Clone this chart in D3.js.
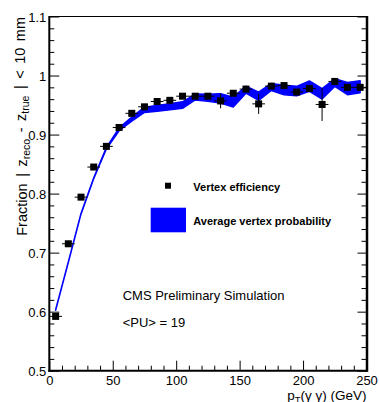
<!DOCTYPE html>
<html>
<head>
<meta charset="utf-8">
<script src="https://cdn.jsdelivr.net/npm/d3@7"></script>
<style>
  html, body { margin: 0; padding: 0; background: #fff; }
  svg { display: block; font-family: "Liberation Sans", Arial, sans-serif; }
</style>
</head>
<body>
<svg id="chart" width="379" height="402"></svg>
<script>
// ---- data ----
const ptBins = [5,15,25,35,45,55,65,75,85,95,105,115,125,135,145,155,165,175,185,195,205,215,225,235,245];
const binHalfWidth = 5;
const efficiency = [0.592,0.715,0.794,0.845,0.880,0.912,0.936,0.947,0.956,0.958,0.965,0.965,0.965,0.957,0.970,0.977,0.952,0.982,0.983,0.972,0.978,0.951,0.990,0.980,0.980];
const efficiencyErr = [0.004,0.003,0.003,0.004,0.004,0.004,0.004,0.004,0.004,0.004,0.004,0.004,0.004,0.0125,0.005,0.005,0.017,0.004,0.004,0.005,0.005,0.028,0.005,0.006,0.006];
const avgProb = [0.603,0.684,0.766,0.826,0.877,0.909,0.926,0.942,0.9445,0.947,0.950,0.9636,0.9623,0.9614,0.955,0.976,0.965,0.9806,0.9755,0.9738,0.982,0.969,0.988,0.978,0.981];
const avgProbErr = [0.0008,0.0008,0.0008,0.001,0.0015,0.0025,0.0035,0.0045,0.005,0.0052,0.0055,0.005,0.006,0.008,0.0085,0.006,0.007,0.006,0.008,0.008,0.0088,0.0088,0.0065,0.0105,0.0102];
const xTicks = [0,50,100,150,200,250];
const xMinorTicks = d3.range(0, 251, 10);
const yTicks = [0.5,0.6,0.7,0.8,0.9,1,1.1];
const yTickLabels = ["0.5","0.6","0.7","0.8","0.9","1","1.1"];
const yMinorTicks = d3.range(0, 31).map(i => 0.5 + i * 0.02);

// ---- layout ----
const svg = d3.select("#chart");
const L = 49.3, R = 366.5, T = 16.5, B = 370.7;
const x = d3.scaleLinear().domain([0, 250]).range([L, R]);
const y = d3.scaleLinear().domain([0.5, 1.1]).range([B, T]);

// ---- band ----
const bandData = ptBins.map((p, i) => ({p, v: avgProb[i], e: avgProbErr[i]}));
const area = d3.area()
  .x(d => x(d.p))
  .y0(d => y(d.v - d.e))
  .y1(d => y(d.v + d.e));
svg.append("path")
  .datum(bandData)
  .attr("d", area)
  .attr("fill", "#0000ff")
  .attr("stroke", "#0000ff")
  .attr("stroke-width", 1.4)
  .attr("stroke-linejoin", "round");

// ---- points ----
const pts = ptBins.map((p, i) => ({p, v: efficiency[i], e: efficiencyErr[i]}));
const g = svg.append("g");
g.selectAll("line.h").data(pts).join("line")
  .attr("x1", d => x(d.p - binHalfWidth)).attr("x2", d => x(d.p + binHalfWidth))
  .attr("y1", d => y(d.v)).attr("y2", d => y(d.v))
  .attr("stroke", "#000").attr("stroke-width", 1);
g.selectAll("line.v").data(pts).join("line")
  .attr("x1", d => x(d.p)).attr("x2", d => x(d.p))
  .attr("y1", d => y(d.v - d.e)).attr("y2", d => y(d.v + d.e))
  .attr("stroke", "#000").attr("stroke-width", 1);
const ms = 7;
g.selectAll("rect").data(pts).join("rect")
  .attr("x", d => x(d.p) - ms / 2).attr("y", d => y(d.v) - ms / 2)
  .attr("width", ms).attr("height", ms).attr("fill", "#000");

// ---- axes ----
const fs = 13;
const xAxis = svg.append("g").attr("transform", `translate(0,${B})`)
  .call(d3.axisBottom(x).tickValues(xTicks).tickFormat(d3.format("d")).tickSizeInner(-10).tickSizeOuter(0).tickPadding(5));
const xMinor = svg.append("g").attr("transform", `translate(0,${B})`)
  .call(d3.axisBottom(x).tickValues(xMinorTicks.filter(v => v % 50 !== 0)).tickFormat("").tickSizeInner(-5).tickSizeOuter(0));
const yAxis = svg.append("g").attr("transform", `translate(${L},0)`)
  .call(d3.axisLeft(y).tickValues(yTicks).tickFormat((d, i) => yTickLabels[i]).tickSizeInner(-10).tickSizeOuter(0).tickPadding(3));
const yMinor = svg.append("g").attr("transform", `translate(${L},0)`)
  .call(d3.axisLeft(y).tickValues(yMinorTicks.filter((v, i) => i % 5 !== 0)).tickFormat("").tickSizeInner(-5).tickSizeOuter(0));
const yRight = svg.append("g").attr("transform", `translate(${R},0)`)
  .call(d3.axisRight(y).tickValues(yTicks).tickFormat("").tickSizeInner(-9).tickSizeOuter(0));
const yRightMinor = svg.append("g").attr("transform", `translate(${R},0)`)
  .call(d3.axisRight(y).tickValues(yMinorTicks.filter((v, i) => i % 5 !== 0)).tickFormat("").tickSizeInner(-5).tickSizeOuter(0));
[xAxis, xMinor, yAxis, yMinor, yRight, yRightMinor].forEach(a => {
  a.select(".domain").remove();
  a.selectAll("line").attr("stroke", "#000").attr("stroke-width", 1);
  a.selectAll("text").attr("font-size", fs).attr("font-family", "Liberation Sans, Arial, sans-serif").attr("fill", "#000");
});
yAxis.selectAll("text").attr("dy", "0.36em");

// frame
svg.append("line").attr("x1", L).attr("x2", R).attr("y1", T).attr("y2", T).attr("stroke", "#000").attr("stroke-width", 1);
svg.append("line").attr("x1", L).attr("x2", L).attr("y1", T - 0.5).attr("y2", B + 1).attr("stroke", "#000").attr("stroke-width", 2);
svg.append("line").attr("x1", L - 1).attr("x2", R + 1).attr("y1", B).attr("y2", B).attr("stroke", "#000").attr("stroke-width", 2);
svg.append("line").attr("x1", R + 0.5).attr("x2", R + 0.5).attr("y1", T - 0.5).attr("y2", B + 1).attr("stroke", "#000").attr("stroke-width", 2.5);

// ---- titles ----
const yt = svg.append("text")
  .attr("transform", `translate(27,${T + 0.5}) rotate(-90)`)
  .attr("text-anchor", "end").attr("font-size", 14.5).attr("word-spacing", 2.5).attr("fill", "#000");
yt.append("tspan").text("Fraction | z");
yt.append("tspan").attr("font-size", 10.5).attr("dy", "0.3em").text("reco");
yt.append("tspan").attr("dy", "-0.3em").text(" - z");
yt.append("tspan").attr("font-size", 10.5).attr("dy", "0.3em").text("true");
yt.append("tspan").attr("dy", "-0.3em").text(" | < 10 mm");

const xt = svg.append("text")
  .attr("x", R).attr("y", 399.5)
  .attr("text-anchor", "end").attr("font-size", 13.5).attr("fill", "#000");
xt.append("tspan").text("p");
xt.append("tspan").attr("font-size", 9.5).attr("dy", 3.5).text("T");
xt.append("tspan").attr("dy", -3.5).text("(γ γ) (GeV)");

// ---- legend ----
const leg = svg.append("g");
leg.append("rect").attr("x", 165).attr("y", 182.7).attr("width", 6).attr("height", 6).attr("fill", "#000");
leg.append("text").attr("x", 193.3).attr("y", 190.5).attr("font-size", 11).attr("font-weight", "bold").attr("fill", "#000").text("Vertex efficiency");
leg.append("rect").attr("x", 150.7).attr("y", 207.7).attr("width", 35.3).attr("height", 24.6).attr("fill", "#0000ff");
leg.append("text").attr("x", 193.3).attr("y", 224.8).attr("font-size", 11).attr("font-weight", "bold").attr("fill", "#000").text("Average vertex probability");

svg.append("text").attr("x", 122.7).attr("y", 300).attr("font-size", 13).attr("fill", "#000").text("CMS Preliminary Simulation");
svg.append("text").attr("x", 122.7).attr("y", 326.7).attr("font-size", 13).attr("fill", "#000").text("<PU> = 19");
</script>
</body>
</html>
